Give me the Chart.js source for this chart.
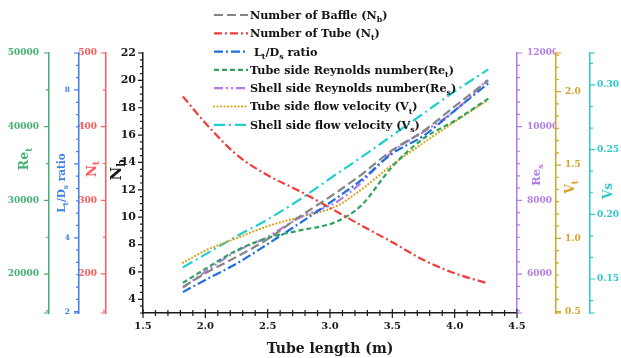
<!DOCTYPE html>
<html><head><meta charset="utf-8">
<script src="https://cdn.jsdelivr.net/npm/chart.js@4/dist/chart.umd.min.js"></script>
<style>html,body{margin:0;padding:0;background:#fff;overflow:hidden}#wrap{width:621px;height:358px}</style>
</head><body><div id="wrap"><canvas id="c" width="621" height="358"></canvas></div>
<script>
// ---- data ----
const tubeLength = [1.82, 2.0, 2.25, 2.5, 2.75, 3.05, 3.25, 3.5, 3.75, 4.0, 4.27];
const numBaffle  = [4.9, 5.9, 7.1, 8.4, 10.0, 11.8, 13.1, 14.9, 16.3, 18.1, 20.0];
const numTube    = [441, 405, 362, 334, 313, 285, 266, 243, 219, 201, 187];
const ltDsRatio  = [2.53, 2.86, 3.30, 3.83, 4.38, 5.07, 5.56, 6.28, 6.76, 7.44, 8.18];
const reTube     = [18800, 20700, 23200, 24900, 25900, 27100, 29300, 34600, 38400, 40800, 43800];
const reShell    = [5630, 6065, 6620, 7010, 7520, 7950, 8480, 9320, 9860, 10430, 11300];
const vTube      = [0.834, 0.916, 1.001, 1.083, 1.144, 1.219, 1.332, 1.502, 1.652, 1.795, 1.945];
const vShell     = [0.159, 0.169, 0.183, 0.196, 0.211, 0.231, 0.244, 0.261, 0.278, 0.295, 0.312];

const seriesNames = ['Number of Baffle (N_{b})', 'Number of Tube (N_{t})', ' L_{t}/D_{s} ratio',
  'Tube side Reynolds number(Re_{t})', 'Shell side Reynolds number(Re_{s})',
  'Tube side flow velocity (V_{t})', 'Shell side flow velocity (V_{s})'];

const xTicks      = [1.5, 2.0, 2.5, 3.0, 3.5, 4.0, 4.5];
const nbTicks     = [4, 6, 8, 10, 12, 14, 16, 18, 20, 22];
const ntTicks     = [200, 300, 400, 500];
const ratioTicks  = [2, 4, 6, 8];
const reTubeTicks = [20000, 30000, 40000, 50000];
const reShellTicks= [6000, 8000, 10000, 12000];
const vTubeTicks  = [0.5, 1.0, 1.5, 2.0];
const vShellTicks = [0.15, 0.20, 0.25, 0.30];

const axisTitles = {x:'Tube length (m)', yNb:'N_{b}', yNt:'N_{t}', yRatio:'L_{t}/D_{s} ratio', yReT:'Re_{t}', yReS:'Re_{s}', yVT:'V_{t}', yVS:'Vs'};

// ---- styles ----
const FONT = "'DejaVu Serif'";
const C = {green:'#45b073', blue:'#3c7ff0', red:'#ff5a5a', purple:'#b37de6', gold:'#d6a325', cyan:'#2ccaca', black:'#1a1a1a'};
const LINE = {grey:'#858585', red:'#f23c3c', blue:'#1f6ee0', green:'#2fa35e', purple:'#b47ae8', gold:'#dca21c', cyan:'#1fcfcf'};

Chart.defaults.font.family = FONT;
Chart.defaults.font.weight = 'bold';

function pts(ys){ return tubeLength.map((x,i)=>({x:x, y:ys[i]})); }
function setTicks(arr){ return s => { s.ticks = arr.map(v=>({value:v})); }; }
function fixW(w){ return s => { s.width = w; }; }

function yAxis(pos, weight, min, max, ticksArr, color, size, pad, width, cb){
  return {type:'linear', position:pos, weight:weight, min:min, max:max,
    afterBuildTicks:setTicks(ticksArr), afterFit:fixW(width),
    ticks:{color:color, font:{size:size, weight:'bold'}, padding:pad, autoSkip:false, callback:cb},
    grid:{display:false, drawTicks:false}, border:{display:true, color:color, width:1.5}};
}

function parseRich(s){
  const out=[]; const re=/_\{([^}]*)\}/g; let last=0, m;
  while((m=re.exec(s))){ if(m.index>last) out.push({t:s.slice(last,m.index),sub:false}); out.push({t:m[1],sub:true}); last=re.lastIndex; }
  if(last<s.length) out.push({t:s.slice(last),sub:false});
  return out;
}
function richWidth(ctx, segs, size){ let w=0; for(const g of segs){ ctx.font=`bold ${g.sub?size*0.7:size}px ${FONT}`; w+=ctx.measureText(g.t).width; } return w; }
function drawRich(ctx, text, x, y, size, color, align){
  const segs = parseRich(text);
  const w = richWidth(ctx, segs, size);
  let cx = align==='center' ? x - w/2 : x;
  const base = y + size*0.35;
  ctx.fillStyle = color; ctx.textBaseline='alphabetic'; ctx.textAlign='left';
  for(const g of segs){ const fs=g.sub?size*0.7:size; ctx.font=`bold ${fs}px ${FONT}`; ctx.fillText(g.t, cx, g.sub? base+size*0.28 : base); cx += ctx.measureText(g.t).width; }
}

const tickSpec = {
  x:{major:0.5, div:5, color:C.black, both:true},
  yNb:{major:2, div:4, color:C.black},
  yNt:{major:100, div:2, color:C.red, ends:true},
  yRatio:{major:2, div:6, color:C.blue, ends:true},
  yReT:{major:10000, div:2, color:C.green, ends:true},
  yReS:{major:2000, div:6, color:C.purple, ends:true},
  yVT:{major:0.5, div:6, color:C.gold, ends:true},
  yVS:{major:0.05, div:3, color:C.cyan, ends:true}
};

const titleSpec = [
  {id:'yReT', x:24, y:159, size:12.5, color:C.green, rot:true},
  {id:'yRatio', x:61, y:183, size:10.5, color:C.blue, rot:true},
  {id:'yNt', x:91, y:169, size:13, color:C.red, rot:true},
  {id:'yNb', x:116, y:170, size:15, color:C.black, rot:true},
  {id:'yReS', x:536, y:175, size:11.5, color:C.purple, rot:true},
  {id:'yVT', x:570, y:187, size:12.5, color:C.gold, rot:true},
  {id:'yVS', x:608, y:191, size:12, color:C.cyan, rot:true},
  {id:'x', x:330, y:348, size:14, color:C.black, rot:false}
];

const decorPlugin = {
  id:'decor',
  afterDraw(chart){
    const ctx = chart.ctx;
    ctx.save();
    for(const id in tickSpec){
      const sp = tickSpec[id], s = chart.scales[id];
      const minor = sp.major/sp.div;
      const k0 = Math.ceil(s.min/minor - 1e-6), k1 = Math.floor(s.max/minor + 1e-6);
      ctx.strokeStyle = sp.color; ctx.lineWidth = 1.2;
      const marks = [];
      for(let k=k0;k<=k1;k++){ marks.push({p:s.getPixelForValue(k*minor), major:(k%sp.div===0)}); }
      if(sp.ends){ marks.push({p:s.getPixelForValue(s.min), major:true}); marks.push({p:s.getPixelForValue(s.max), major:true}); }
      ctx.beginPath();
      for(const m of marks){
        const len = m.major?5:3;
        if(id==='x'){ ctx.moveTo(m.p, s.top-(m.major?4:3)); ctx.lineTo(m.p, s.top+len); }
        else if(s.position==='left'){ ctx.moveTo(s.right-len, m.p); ctx.lineTo(s.right, m.p); }
        else { ctx.moveTo(s.left, m.p); ctx.lineTo(s.left+len, m.p); }
      }
      ctx.stroke();
    }
    for(const t of titleSpec){
      const txt = axisTitles[t.id];
      if(t.rot){ ctx.save(); ctx.translate(t.x, t.y); ctx.rotate(-Math.PI/2); drawRich(ctx, txt, 0, 0, t.size, t.color, 'center'); ctx.restore(); }
      else drawRich(ctx, txt, t.x, t.y, t.size, t.color, 'center');
    }
    chart.data.datasets.forEach((ds,i)=>{
      const y = 15 + i*18.3;
      ctx.save();
      ctx.strokeStyle = ds.borderColor; ctx.lineWidth = 2.2; ctx.setLineDash(ds.borderDash||[]);
      ctx.lineCap = ds.borderCapStyle||'butt';
      ctx.beginPath(); ctx.moveTo(214, y); ctx.lineTo(248, y); ctx.stroke();
      ctx.restore();
      drawRich(ctx, seriesNames[i], 250, y, 11.2, '#111', 'left');
    });
    ctx.restore();
  }
};

function ds(label, data, axis, color, dash, cap){
  return {label:label, data:pts(data), yAxisID:axis, borderColor:color, backgroundColor:color,
    borderWidth:2.2, borderDash:dash, borderCapStyle:cap||'butt', pointRadius:0, fill:false,
    cubicInterpolationMode:'monotone'};
}

new Chart(document.getElementById('c'), {
  type:'line',
  data:{datasets:[
    ds('Number of Baffle (Nb)', numBaffle, 'yNb', LINE.grey, [9,4]),
    ds('Number of Tube (Nt)', numTube, 'yNt', LINE.red, [8,3,2,3]),
    ds('Lt/Ds ratio', ltDsRatio, 'yRatio', LINE.blue, [9,3,2,3]),
    ds('Tube side Reynolds number(Ret)', reTube, 'yReT', LINE.green, [5,3]),
    ds('Shell side Reynolds number(Res)', reShell, 'yReS', LINE.purple, [9,3,2,3,2,3]),
    ds('Tube side flow velocity (Vt)', vTube, 'yVT', LINE.gold, [0.1,3.4], 'round'),
    ds('Shell side flow velocity (Vs)', vShell, 'yVS', LINE.cyan, [11,4,2,4])
  ]},
  options:{
    responsive:false, animation:false, devicePixelRatio:1,
    layout:{padding:{top:53, left:0, right:0, bottom:0}},
    plugins:{legend:{display:false}, tooltip:{enabled:false}, title:{display:false}},
    scales:{
      x:{type:'linear', position:'bottom', min:1.5, max:4.5, afterBuildTicks:setTicks(xTicks),
         afterFit:s=>{s.height=45;},
         ticks:{color:C.black, font:{size:10, weight:'bold'}, padding:7, autoSkip:false, maxRotation:0, callback:v=>v.toFixed(1)},
         grid:{display:false, drawTicks:false}, border:{display:true, color:C.black, width:1.5}},
      yNb:yAxis('left', 0, 3, 22, nbTicks, C.black, 11, 7, 37, v=>String(v)),
      yNt:yAxis('left', 1, 147, 500, ntTicks, C.red, 9, 9, 27, v=>String(v)),
      yRatio:yAxis('left', 2, 1.965, 9.0, ratioTicks, C.blue, 7.5, 9, 30, v=> v===6 ? '' : String(v)),
      yReT:yAxis('left', 3, 14718, 50000, reTubeTicks, C.green, 9, 10, 49, v=>String(v)),
      yReS:yAxis('right', 0, 4944, 12000, reShellTicks, C.purple, 9, 10, 39, v=>String(v)),
      yVT:yAxis('right', 1, 0.491, 2.264, vTubeTicks, C.gold, 9, 9, 34, v=>v.toFixed(1)),
      yVS:yAxis('right', 2, 0.1237, 0.3247, vShellTicks, C.cyan, 9, 7, 31, v=>v.toFixed(2))
    }
  },
  plugins:[decorPlugin]
});
</script></body></html>
